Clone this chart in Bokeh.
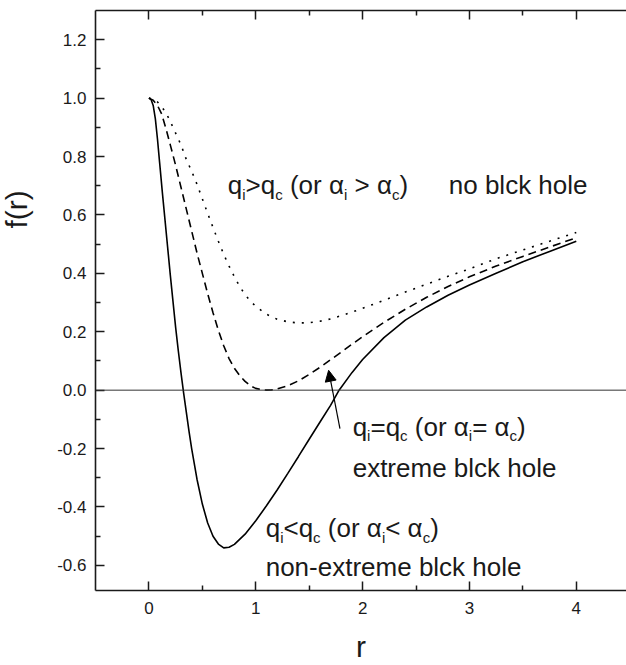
import math
from bokeh.plotting import figure
from bokeh.models import (FixedTicker, LinearAxis, PrintfTickFormatter, Span, Title,
                          Arrow, NormalHead, ColumnDataSource, Range1d, CustomJSTickFormatter)
from bokeh.core.properties import value
from bokeh.embed import file_html
from bokeh.resources import INLINE

# ---------------- data ----------------
r_solid = [0.0, 0.02, 0.04, 0.06, 0.08, 0.10, 0.125, 0.15, 0.175, 0.2, 0.225, 0.25, 0.275,
           0.3, 0.325, 0.35, 0.375, 0.4, 0.45, 0.5, 0.55, 0.6, 0.65, 0.7, 0.75, 0.8, 0.9,
           1.0, 1.1, 1.2, 1.3, 1.4, 1.5, 1.6, 1.7, 1.78, 1.9, 2.0, 2.2, 2.4, 2.6, 2.8, 3.0,
           3.25, 3.5, 3.75, 4.0]
f_solid = [1.0, 0.995, 0.975, 0.93, 0.86, 0.78, 0.68, 0.585, 0.49, 0.395, 0.305, 0.215, 0.135,
           0.06, -0.01, -0.075, -0.14, -0.2, -0.305, -0.39, -0.455, -0.5, -0.527, -0.54, -0.538,
           -0.528, -0.493, -0.447, -0.396, -0.342, -0.285, -0.227, -0.168, -0.11, -0.052, 0.0,
           0.06, 0.105, 0.18, 0.24, 0.285, 0.325, 0.36, 0.40, 0.44, 0.475, 0.51]

r_dash = [0.0, 0.04, 0.08, 0.12, 0.16, 0.2, 0.25, 0.3, 0.35, 0.4, 0.45, 0.5, 0.55, 0.6, 0.65,
          0.7, 0.75, 0.8, 0.85, 0.9, 0.95, 1.0, 1.05, 1.1, 1.15, 1.2, 1.3, 1.4, 1.5, 1.6, 1.7,
          1.8, 1.9, 2.0, 2.2, 2.4, 2.6, 2.8, 3.0, 3.25, 3.5, 3.75, 4.0]
f_dash = [1.0, 0.993, 0.975, 0.945, 0.895, 0.84, 0.77, 0.695, 0.62, 0.545, 0.47, 0.4, 0.33,
          0.265, 0.205, 0.152, 0.108, 0.075, 0.05, 0.03, 0.015, 0.006, 0.002, 0.0, 0.001,
          0.004, 0.015, 0.032, 0.054, 0.078, 0.104, 0.13, 0.157, 0.183, 0.232, 0.277, 0.318,
          0.355, 0.388, 0.425, 0.458, 0.49, 0.522]

r_dot = [0.0, 0.04, 0.08, 0.12, 0.16, 0.2, 0.25, 0.3, 0.35, 0.4, 0.45, 0.5, 0.55, 0.6, 0.65,
         0.7, 0.75, 0.8, 0.85, 0.9, 0.95, 1.0, 1.1, 1.2, 1.3, 1.4, 1.5, 1.6, 1.7, 1.8, 1.9,
         2.0, 2.2, 2.4, 2.6, 2.8, 3.0, 3.25, 3.5, 3.75, 4.0]
f_dot = [1.0, 0.997, 0.987, 0.97, 0.95, 0.92, 0.88, 0.84, 0.79, 0.75, 0.705, 0.655, 0.605,
         0.557, 0.51, 0.465, 0.425, 0.388, 0.355, 0.327, 0.305, 0.287, 0.26, 0.243, 0.234,
         0.23, 0.231, 0.236, 0.244, 0.255, 0.267, 0.28, 0.308, 0.336, 0.363, 0.39, 0.415,
         0.45, 0.48, 0.51, 0.54]

x_major = [0, 1, 2, 3, 4]
x_minor = [0.5, 1.5, 2.5, 3.5]
y_major = [-0.6, -0.4, -0.2, 0.0, 0.2, 0.4, 0.6, 0.8, 1.0, 1.2]
y_minor = [-0.5, -0.3, -0.1, 0.1, 0.3, 0.5, 0.7, 0.9, 1.1]

x_label = "r"
y_label = "f(r)"

# ---------------- figure ----------------
FONT = "Liberation Sans"
INK = "#1a1a1a"

p = figure(width=626, height=665, output_backend="svg", toolbar_location=None,
           x_range=Range1d(-0.5, 4.47), y_range=Range1d(-0.686, 1.3),
           min_border_left=95, min_border_right=0, min_border_top=10, min_border_bottom=60,
           x_axis_location="below", y_axis_location="left")
p.outline_line_color = None
p.grid.visible = False
p.background_fill_color = "white"
p.border_fill_color = "white"

def style_axis(ax, ticks, minor):
    ax.ticker = FixedTicker(ticks=ticks, minor_ticks=minor)
    ax.axis_line_width = 1.6
    ax.axis_line_color = INK
    ax.major_tick_line_color = INK
    ax.minor_tick_line_color = INK
    ax.major_tick_line_width = 1.5
    ax.minor_tick_line_width = 1.5
    ax.major_tick_in = 9
    ax.major_tick_out = 0
    ax.minor_tick_in = 5
    ax.minor_tick_out = 0
    ax.major_label_text_font = FONT
    ax.major_label_text_font_size = "17px"
    ax.major_label_text_color = INK
    ax.axis_label_text_font = FONT
    ax.axis_label_text_font_style = "normal"
    ax.axis_label_text_font_size = "30px"
    ax.axis_label_text_color = INK

xa = p.xaxis[0]
style_axis(xa, x_major, x_minor)
xa.major_label_standoff = 11
xa.axis_label = x_label
xa.axis_label_standoff = 13

ya = p.yaxis[0]
style_axis(ya, y_major, y_minor)
ya.formatter = PrintfTickFormatter(format="%.1f")
ya.major_label_standoff = 9
# blank spacer label: pushes the y title outwards, as in the original
ya.axis_label = " "
ya.axis_label_text_font_size = "10px"
ya.axis_label_standoff = 11

top = LinearAxis()
style_axis(top, x_major, x_minor)
top.formatter = CustomJSTickFormatter(code="return ''")
top.major_label_standoff = 0
p.add_layout(top, "above")

# y-axis title, placed above the middle like the original
p.add_layout(Title(text=y_label, align="left", offset=362, standoff=-7,
                   text_font=FONT, text_font_size="30px", text_font_style="normal",
                   text_color=INK), "left")

# zero line
p.add_layout(Span(location=0, dimension="width", line_color="#333333", line_width=1))

# curves
p.line(r_solid, f_solid, line_color="black", line_width=1.6)
p.line(r_dash, f_dash, line_color="black", line_width=1.6, line_dash="8 5")
p.line(r_dot, f_dot, line_color="black", line_width=1.6, line_dash="2 7")

# arrow to the extreme curve
p.add_layout(Arrow(x_start=1.788, y_start=-0.132, x_end=1.682, y_end=0.068,
                   line_color="black", line_width=1.2,
                   end=NormalHead(size=11, fill_color="black", line_color="black", line_width=1)))

# ---------------- annotations with subscripts ----------------
W = {' ': 278, '(': 333, ')': 333, '-': 333, '<': 584, '=': 584, '>': 584, 'a': 556,
     'b': 556, 'c': 500, 'e': 556, 'h': 556, 'i': 222, 'k': 500, 'l': 222, 'm': 833,
     'n': 556, 'o': 556, 'q': 556, 'r': 333, 't': 278, 'x': 500, 'α': 578}

MAIN = 26
SUB = 15
SUB_DROP = 9

def tw(s, size):
    return sum(W.get(ch, 556) for ch in s) / 1000.0 * size

cols = dict(x=[], y=[], text=[], xo=[], yo=[], fs=[])

def rich(x, y, runs, start=0.0):
    off = start
    for txt, sub in runs:
        size = SUB if sub else MAIN
        core = txt.strip(" ")
        lead = len(txt) - len(txt.lstrip(" "))
        trail = len(txt) - len(txt.rstrip(" "))
        off += tw(" " * lead, size)
        cols["x"].append(x)
        cols["y"].append(y)
        cols["text"].append(core)
        cols["xo"].append(off)
        cols["yo"].append(SUB_DROP if sub else 0)
        cols["fs"].append(f"{size}px")
        off += tw(core, size) + tw(" " * trail, size)

def cond(op, opa):
    return [("q", False), ("i", True), (op + "q", False), ("c", True),
            (" (or α", False), ("i", True), (opa + "α", False), ("c", True), (")", False)]

rich(0.738, 0.701, cond(">", " > "))
rich(0.738, 0.701, [("no blck hole", False)], start=221)
rich(1.907, -0.126, cond("=", "= "))
rich(1.907, -0.268, [("extreme blck hole", False)])
rich(1.093, -0.473, cond("<", "< "))
rich(1.093, -0.605, [("non-extreme blck hole", False)])

src = ColumnDataSource(cols)
p.text(x="x", y="y", text="text", x_offset="xo", y_offset="yo", text_font_size="fs",
       source=src, text_font=value(FONT), text_color=INK,
       text_align="left", text_baseline="alphabetic")

open("out.html", "w").write(file_html(p, INLINE))
